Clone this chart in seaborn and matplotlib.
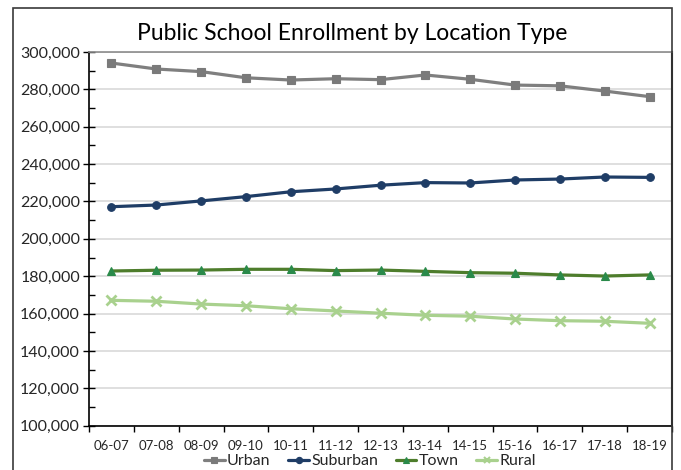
import matplotlib
matplotlib.use("Agg")
import matplotlib.pyplot as plt
from matplotlib.patches import Rectangle
from matplotlib.lines import Line2D
from matplotlib.ticker import MultipleLocator, FuncFormatter, FixedLocator
import seaborn as sns
import pandas as pd

years = ["06-07", "07-08", "08-09", "09-10", "10-11", "11-12", "12-13",
         "13-14", "14-15", "15-16", "16-17", "17-18", "18-19"]
urban = [294100, 290900, 289500, 286200, 285000, 285700, 285200,
         287700, 285400, 282300, 281900, 279100, 276100]
suburban = [217200, 218100, 220300, 222600, 225200, 226700, 228700,
            230100, 229900, 231500, 232000, 233100, 232900]
town = [182800, 183200, 183300, 183700, 183700, 183000, 183300,
        182600, 181900, 181600, 180700, 180100, 180700]
rural = [167100, 166600, 165100, 164200, 162600, 161400, 160200,
         159100, 158600, 157100, 156200, 155900, 154800]

series = {"Urban": urban, "Suburban": suburban, "Town": town, "Rural": rural}
rows = []
for name, vals in series.items():
    for i, v in enumerate(vals):
        rows.append({"idx": i, "year": years[i], "Enrollment": v, "Location": name})
df = pd.DataFrame(rows)

sns.set_theme(style="white")
plt.rcParams["font.family"] = ["Lato", "DejaVu Sans"]

palette = {"Urban": "#7f7f7f", "Suburban": "#1f3d66", "Town": "#4e7d2c", "Rural": "#a9d18e"}
markers = {"Urban": "s", "Suburban": "o", "Town": "^", "Rural": "X"}
marker_colors = {"Urban": "#7a7a7a", "Suburban": "#1f3d66", "Town": "#2a8a4a", "Rural": "#a9d18e"}

fig = plt.figure(figsize=(6.81, 4.70), dpi=100)
ax = fig.add_axes([89 / 681, 1 - 425.7 / 470, (672 - 89) / 681, (425.7 - 52) / 470])

sns.lineplot(data=df, x="idx", y="Enrollment", hue="Location", style="Location",
             palette=palette, markers=markers, dashes=False, linewidth=2.3,
             markersize=5.5, markeredgewidth=0.8, ax=ax, legend=False)

# marker colours differ slightly from line colours for some series
for line, name in zip(ax.get_lines(), series.keys()):
    line.set_markerfacecolor(marker_colors[name])
    line.set_markeredgecolor(marker_colors[name])
    if name == "Rural":
        line.set_marker("x")
        line.set_markeredgewidth(2)
        line.set_markersize(7)

ax.set_xlim(-0.5, len(years) - 0.5)
ax.set_ylim(100000, 300000)
ax.set_xlabel("")
ax.set_ylabel("")

# y axis: major every 20k with gridlines, minor marks every 10k
ax.yaxis.set_major_locator(MultipleLocator(20000))
ax.yaxis.set_minor_locator(MultipleLocator(10000))
ax.yaxis.set_major_formatter(FuncFormatter(lambda v, p: f"{int(v):,}"))
ax.tick_params(axis="y", which="major", direction="inout", length=9, width=1,
               color="black", labelsize=11.5, pad=2, left=True)
ax.tick_params(axis="y", which="minor", direction="in", length=4, width=1,
               color="black", left=True)
ax.grid(axis="y", which="major", color="#d9d9d9", linewidth=1.2)
ax.set_axisbelow(True)

# x axis: tick marks between categories, labels at category centres
ax.xaxis.set_major_locator(FixedLocator([i - 0.5 for i in range(len(years) + 1)]))
ax.xaxis.set_minor_locator(FixedLocator(list(range(len(years)))))
ax.xaxis.set_major_formatter(FuncFormatter(lambda v, p: ""))
ax.xaxis.set_minor_formatter(FuncFormatter(lambda v, p: years[int(round(v))]))
ax.tick_params(axis="x", which="major", direction="out", length=4, width=1,
               color="black", bottom=True)
ax.tick_params(axis="x", which="minor", length=0, labelsize=9.5, pad=10)

for side in ["left", "bottom"]:
    ax.spines[side].set_color("black")
    ax.spines[side].set_linewidth(1.2)
ax.spines["top"].set_color("#8c8c8c")
ax.spines["top"].set_linewidth(1.2)
ax.spines["right"].set_color("black")
ax.spines["right"].set_linewidth(1.5)

# legend along the bottom
handles = []
for name in series:
    mk = "x" if name == "Rural" else markers[name]
    handles.append(Line2D([0], [0], color=palette[name], lw=2.3, marker=mk,
                          markersize=4.5, markerfacecolor=marker_colors[name],
                          markeredgecolor=marker_colors[name],
                          markeredgewidth=1.5 if name == "Rural" else 0.8))
fig.legend(handles, list(series.keys()), loc="center", bbox_to_anchor=(370 / 681, 1 - 461 / 470),
           ncol=4, frameon=False, fontsize=11.5, handlelength=1.3, handletextpad=0.15,
           columnspacing=1.1, borderaxespad=0)

fig.text(352 / 681, 1 - 33 / 470, "Public School Enrollment by Location Type",
         ha="center", va="center", fontsize=16.5, color="black")

# chart frame
fig.add_artist(Rectangle((13 / 681, -0.02), (672 - 13) / 681, 1 - 8 / 470 + 0.02,
                         transform=fig.transFigure, fill=False, edgecolor="#3a3a3a",
                         linewidth=1.2, clip_on=False))

fig.savefig("out.png", dpi=100, facecolor="white")
